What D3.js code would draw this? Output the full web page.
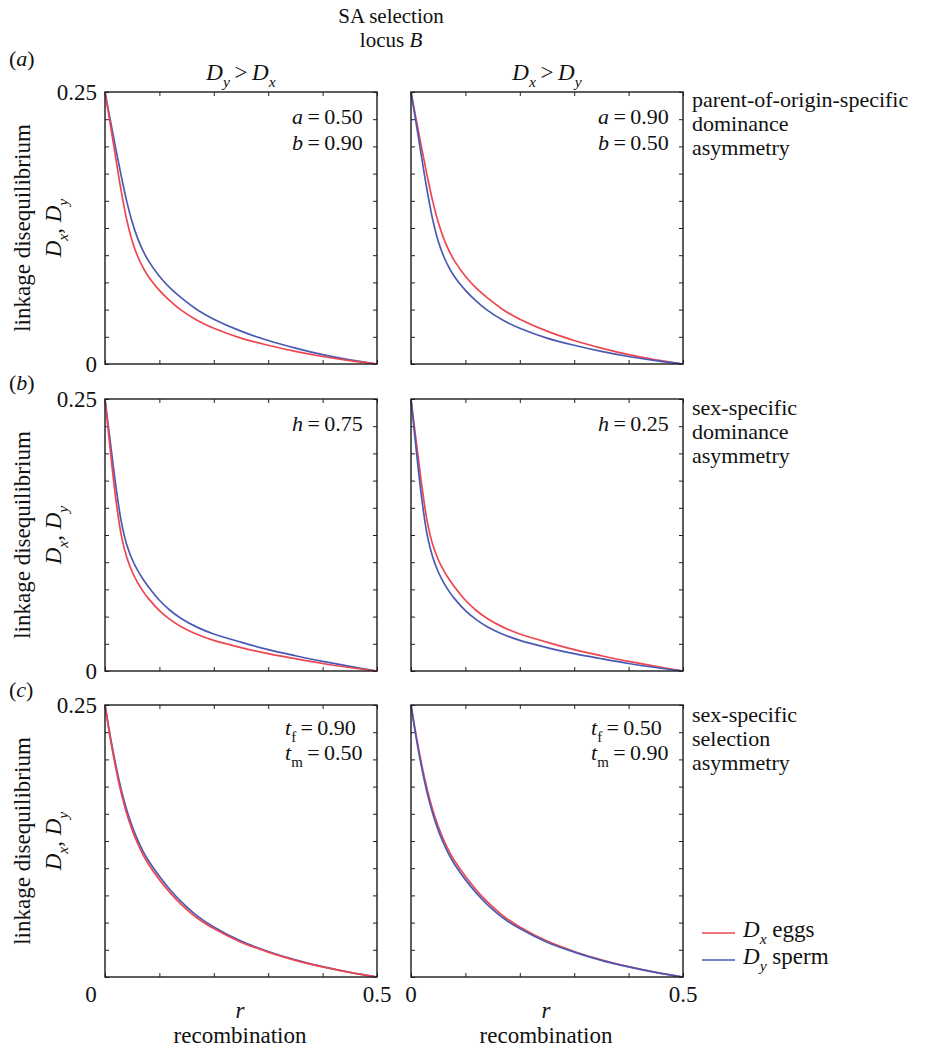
<!DOCTYPE html>
<html>
<head>
<meta charset="utf-8">
<script src="https://cdn.jsdelivr.net/npm/d3@7"></script>
<style>
  html, body { margin: 0; padding: 0; background: #fff; }
  svg { display: block; }
  text { font-family: "Liberation Serif", "Times New Roman", Times, serif; fill: #111; }
</style>
</head>
<body>
<svg id="chart" width="928" height="1048" font-family="Liberation Serif, Times New Roman, serif"></svg>
<script>
// Recombination fraction r at which the equilibria were sampled
const rValues = [0, 0.01, 0.02, 0.03, 0.04, 0.05, 0.06, 0.07, 0.08, 0.10, 0.12, 0.14, 0.17, 0.20, 0.25, 0.30, 0.35, 0.40, 0.45, 0.50];

// (a) parent-of-origin-specific dominance asymmetry
const eggsA1  = [0.250, 0.2195, 0.1885, 0.1585, 0.1325, 0.1130, 0.0990, 0.0885, 0.0802, 0.0677, 0.0578, 0.0495, 0.0400, 0.0328, 0.0238, 0.0172, 0.0116, 0.0069, 0.0031, 0];
const spermA1 = [0.250, 0.2235, 0.1975, 0.1725, 0.1495, 0.1305, 0.1155, 0.1040, 0.0948, 0.0807, 0.0697, 0.0610, 0.0497, 0.0412, 0.0302, 0.0216, 0.0146, 0.0086, 0.0038, 0];
const eggsA2  = [0.250, 0.2235, 0.1975, 0.1725, 0.1495, 0.1305, 0.1155, 0.1040, 0.0948, 0.0807, 0.0697, 0.0610, 0.0497, 0.0412, 0.0302, 0.0216, 0.0146, 0.0086, 0.0038, 0];
const spermA2 = [0.250, 0.2195, 0.1885, 0.1585, 0.1325, 0.1130, 0.0990, 0.0885, 0.0802, 0.0677, 0.0578, 0.0495, 0.0400, 0.0328, 0.0238, 0.0172, 0.0116, 0.0069, 0.0031, 0];

// (b) sex-specific dominance asymmetry
const eggsB1  = [0.250, 0.2015, 0.1575, 0.1245, 0.1045, 0.0912, 0.0812, 0.0732, 0.0665, 0.0555, 0.0472, 0.0407, 0.0336, 0.0281, 0.0215, 0.0160, 0.0113, 0.0069, 0.0032, 0];
const spermB1 = [0.250, 0.2095, 0.1700, 0.1370, 0.1160, 0.1025, 0.0925, 0.0843, 0.0773, 0.0650, 0.0556, 0.0483, 0.0401, 0.0340, 0.0265, 0.0196, 0.0140, 0.0088, 0.0042, 0];
const eggsB2  = [0.250, 0.2095, 0.1700, 0.1370, 0.1160, 0.1025, 0.0925, 0.0843, 0.0773, 0.0650, 0.0556, 0.0483, 0.0401, 0.0340, 0.0265, 0.0196, 0.0140, 0.0088, 0.0042, 0];
const spermB2 = [0.250, 0.2015, 0.1575, 0.1245, 0.1045, 0.0912, 0.0812, 0.0732, 0.0665, 0.0555, 0.0472, 0.0407, 0.0336, 0.0281, 0.0215, 0.0160, 0.0113, 0.0069, 0.0032, 0];

// (c) sex-specific selection asymmetry
const eggsC1  = [0.250, 0.2185, 0.1915, 0.1685, 0.1500, 0.1350, 0.1227, 0.1123, 0.1037, 0.0895, 0.0773, 0.0668, 0.0540, 0.0445, 0.0320, 0.0229, 0.0153, 0.0093, 0.0042, 0];
const spermC1 = [0.250, 0.2205, 0.1945, 0.1720, 0.1535, 0.1385, 0.1260, 0.1155, 0.1068, 0.0925, 0.0800, 0.0693, 0.0560, 0.0460, 0.0330, 0.0235, 0.0157, 0.0095, 0.0043, 0];
const eggsC2  = [0.250, 0.2205, 0.1945, 0.1720, 0.1535, 0.1385, 0.1260, 0.1155, 0.1068, 0.0925, 0.0800, 0.0693, 0.0560, 0.0460, 0.0330, 0.0235, 0.0157, 0.0095, 0.0043, 0];
const spermC2 = [0.250, 0.2185, 0.1915, 0.1685, 0.1500, 0.1350, 0.1227, 0.1123, 0.1037, 0.0895, 0.0773, 0.0668, 0.0540, 0.0445, 0.0320, 0.0229, 0.0153, 0.0093, 0.0042, 0];

// Tick positions and labels
const xTickValues = [0, 0.1, 0.2, 0.3, 0.4, 0.5];
const yTickValues = [0, 0.025, 0.05, 0.075, 0.1, 0.125, 0.15, 0.175, 0.2, 0.225, 0.25];
const xTickLabels = [[0, "0"], [0.5, "0.5"]];
const yTickLabels = [[0.25, "0.25"], [0, "0"]];

const rowLetters = ["a", "b", "c"];
const rowNotes = [
  ["parent-of-origin-specific", "dominance", "asymmetry"],
  ["sex-specific", "dominance", "asymmetry"],
  ["sex-specific", "selection", "asymmetry"]
];
// parameter annotations: [symbol, subscript, value] per line
const paramsLeft  = [[["a", "", "0.50"], ["b", "", "0.90"]], [["h", "", "0.75"]], [["t", "f", "0.90"], ["t", "m", "0.50"]]];
const paramsRight = [[["a", "", "0.90"], ["b", "", "0.50"]], [["h", "", "0.25"]], [["t", "f", "0.50"], ["t", "m", "0.90"]]];

const eggsColor = "#ee4650";
const spermColor = "#4a5ab4";

const series = [
  [[eggsA1, spermA1], [eggsA2, spermA2]],
  [[eggsB1, spermB1], [eggsB2, spermB2]],
  [[eggsC1, spermC1], [eggsC2, spermC2]]
];

// ---- layout ----
const svg = d3.select("#chart");
const PW = 272, PH = 272;
const colX = [105, 411];
const rowY = [92, 399, 705];
const FS = 22;

const x = d3.scaleLinear().domain([0, 0.5]).range([0, PW]);
const y = d3.scaleLinear().domain([0, 0.25]).range([PH, 0]);

// writes a sequence of runs into a text element; run = {t, it, sub}
function runs(textSel, parts, size) {
  let shift = 0;
  parts.forEach(p => {
    const ts = textSel.append("tspan").text(p.t);
    if (p.it) ts.attr("font-style", "italic");
    const want = p.sub ? size * 0.3 : 0;
    if (want !== shift) { ts.attr("dy", want - shift); shift = want; }
    if (p.sub) ts.attr("font-size", size * 0.68);
    if (p.dx) ts.attr("dx", p.dx);
  });
  return textSel;
}

const line = d3.line()
  .x((d, i) => x(rValues[i]))
  .y(d => y(d))
  .curve(d3.curveCatmullRom.alpha(0.5));

// header
svg.append("text").attr("x", 391).attr("y", 23).attr("text-anchor", "middle")
  .attr("font-size", 21).text("SA selection");
runs(svg.append("text").attr("x", 391).attr("y", 47).attr("text-anchor", "middle").attr("font-size", 21),
  [{t: "locus "}, {t: "B", it: true}], 21);

// column titles
const colTitles = [
  [{t: "D", it: true}, {t: "y", it: true, sub: true}, {t: "\u2009>\u2009"}, {t: "D", it: true}, {t: "x", it: true, sub: true}],
  [{t: "D", it: true}, {t: "x", it: true, sub: true}, {t: "\u2009>\u2009"}, {t: "D", it: true}, {t: "y", it: true, sub: true}]
];
colTitles.forEach((parts, c) => {
  runs(svg.append("text").attr("x", colX[c] + PW / 2).attr("y", 80).attr("text-anchor", "middle").attr("font-size", 23),
    parts, 23);
});

const letterY = [66, 390, 697];

rowY.forEach((y0, r) => {
  // panel letter
  runs(svg.append("text").attr("x", 9).attr("y", letterY[r]).attr("font-size", FS),
    [{t: "("}, {t: rowLetters[r], it: true}, {t: ")"}], FS);

  // y-axis titles
  const cy = y0 + PH / 2;
  svg.append("text").attr("transform", `translate(30,${cy}) rotate(-90)`)
    .attr("text-anchor", "middle").attr("font-size", 23).text("linkage disequilibrium");
  runs(svg.append("text").attr("transform", `translate(61,${cy}) rotate(-90)`)
    .attr("text-anchor", "middle").attr("font-size", 23),
    [{t: "D", it: true}, {t: "x", it: true, sub: true}, {t: ", "}, {t: "D", it: true}, {t: "y", it: true, sub: true}], 23);

  // right-hand notes
  rowNotes[r].forEach((s, k) => {
    svg.append("text").attr("x", 692).attr("y", y0 + 15 + r + k * 24).attr("font-size", FS).text(s);
  });

  colX.forEach((x0, c) => {
    const g = svg.append("g").attr("transform", `translate(${x0},${y0})`);

    // inward ticks on all four sides
    const axes = [
      [d3.axisBottom(x).tickValues(xTickValues), `translate(0,${PH})`],
      [d3.axisTop(x).tickValues(xTickValues), null],
      [d3.axisLeft(y).tickValues(yTickValues), null],
      [d3.axisRight(y).tickValues(yTickValues), `translate(${PW},0)`]
    ];
    axes.forEach(([ax, tr]) => {
      const a = g.append("g").call(ax.tickSize(-4).tickSizeOuter(0).tickFormat(""));
      if (tr) a.attr("transform", tr);
      a.select(".domain").remove();
      a.selectAll("line").attr("stroke", "#222").attr("stroke-width", 1);
    });

    // curves
    const [eggs, sperm] = series[r][c];
    const order = c === 0 ? [[sperm, spermColor], [eggs, eggsColor]] : [[eggs, eggsColor], [sperm, spermColor]];
    order.forEach(([vals, col]) => {
      g.append("path").datum(vals).attr("d", line)
        .attr("fill", "none").attr("stroke", col).attr("stroke-width", 1.7);
    });

    // frame
    g.append("rect").attr("x", 0).attr("y", 0).attr("width", PW).attr("height", PH)
      .attr("fill", "none").attr("stroke", "#1a1a1a").attr("stroke-width", 1.4);

    // parameter annotations
    const params = (c === 0 ? paramsLeft : paramsRight)[r];
    const px = r === 2 ? 180 : 187;
    const pyStart = r === 2 ? 30 : 32;
    const pyStep = r === 2 ? 25 : 26;
    params.forEach(([sym, sub, val], k) => {
      const parts = [{t: sym, it: true}];
      if (sub) parts.push({t: sub, sub: true});
      parts.push({t: "\u2009=\u2009"});
      parts.push({t: val});
      runs(g.append("text").attr("x", px).attr("y", pyStart + k * pyStep).attr("font-size", FS), parts, FS);
    });

    // y tick labels (left column only)
    if (c === 0) {
      yTickLabels.forEach(([v, s]) => {
        if (r === 2 && v === 0) return;
        g.append("text").attr("x", -8).attr("y", y(v)).attr("dy", "0.36em")
          .attr("text-anchor", "end").attr("font-size", 23).text(s);
      });
    }

    // x tick labels and title (bottom row)
    if (r === 2) {
      xTickLabels.forEach(([v, s]) => {
        const shift = (c === 0 && v === 0) ? -14 : 0;
        g.append("text").attr("x", x(v) + shift).attr("y", PH + 25)
          .attr("text-anchor", "middle").attr("font-size", 23).text(s);
      });
      g.append("text").attr("x", PW / 2 - 1).attr("y", PH + 41).attr("text-anchor", "middle")
        .attr("font-size", 23).attr("font-style", "italic").text("r");
      g.append("text").attr("x", PW / 2 - 1).attr("y", PH + 66).attr("text-anchor", "middle")
        .attr("font-size", 23).text("recombination");
    }
  });
});

// legend
const legend = [
  [eggsColor, [{t: "D", it: true}, {t: "x", it: true, sub: true}, {t: " eggs"}]],
  [spermColor, [{t: "D", it: true}, {t: "y", it: true, sub: true}, {t: " sperm"}]]
];
legend.forEach(([col, parts], k) => {
  const ly = 933 + k * 27;
  svg.append("line").attr("x1", 702).attr("x2", 735).attr("y1", ly).attr("y2", ly)
    .attr("stroke", col).attr("stroke-width", 1.7);
  runs(svg.append("text").attr("x", 743).attr("y", ly + 4).attr("font-size", 23), parts, 23);
});
</script>
</body>
</html>
